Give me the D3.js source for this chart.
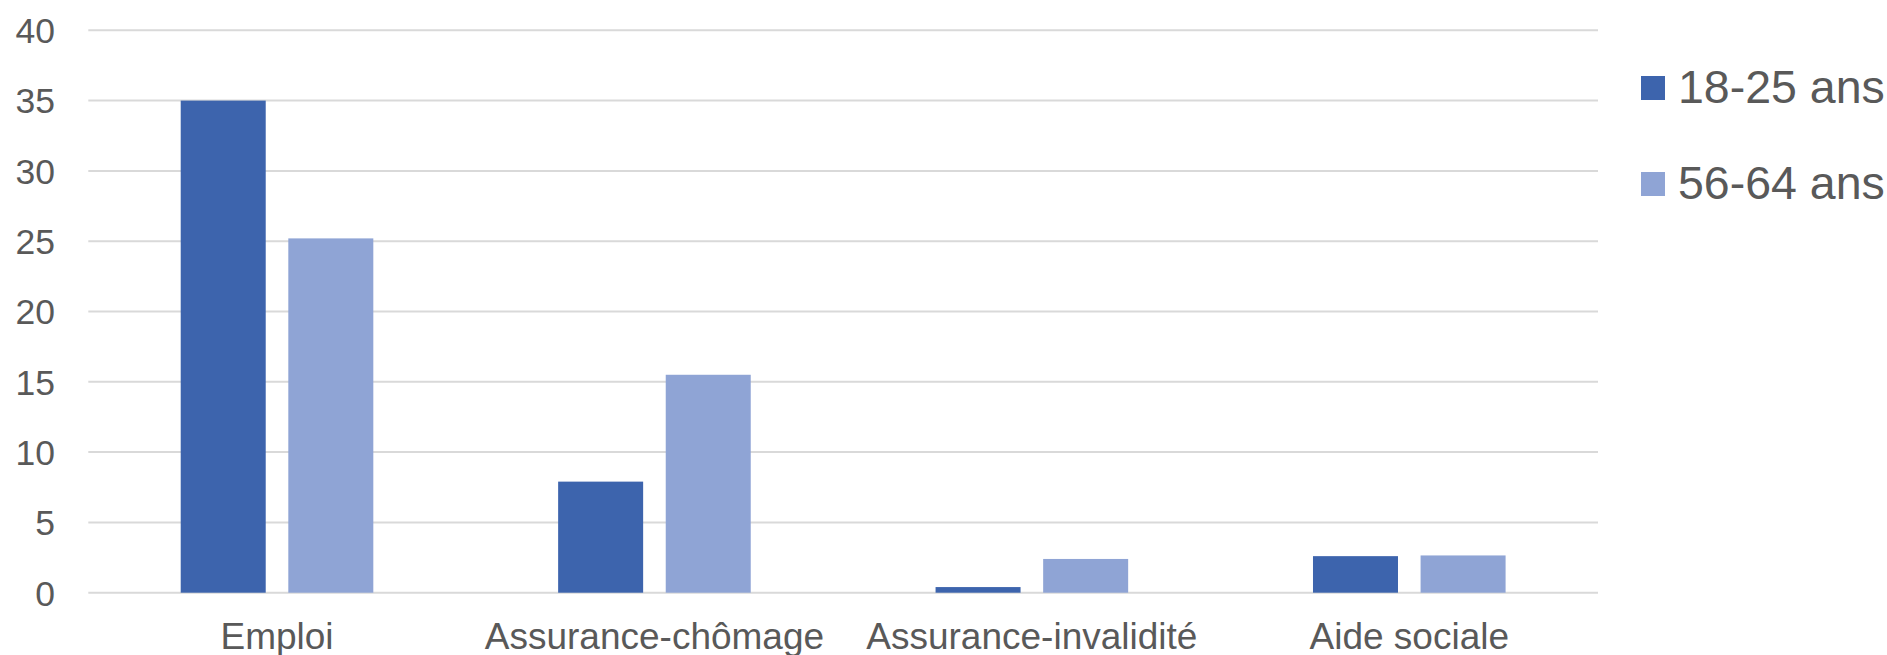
<!DOCTYPE html>
<html>
<head>
<meta charset="utf-8">
<script src="https://cdn.jsdelivr.net/npm/d3@7"></script>
<style>
  body { margin: 0; background: #fff; }
  svg text { font-family: "Liberation Sans", Arial, sans-serif; fill: #595959; }
</style>
</head>
<body>
<script>
const categories = ['Emploi', 'Assurance-chômage', 'Assurance-invalidité', 'Aide sociale'];
const series = ['18-25 ans', '56-64 ans'];
const values1825 = [35.0, 7.9, 0.4, 2.6];
const values5664 = [25.2, 15.5, 2.4, 2.65];
const yTicks = [0, 5, 10, 15, 20, 25, 30, 35, 40];
const colors = ['#3D64AD', '#8FA4D5'];

const width = 1887, height = 655;
const plot = { left: 88.3, right: 1598, top: 30.3, bottom: 592.7 };

const svg = d3.select('body')
  .append('svg')
  .attr('width', width)
  .attr('height', height);

const x0 = d3.scaleBand()
  .domain(categories)
  .range([plot.left, plot.right])
  .padding(0);

const groupW = 192.6;
const x1 = d3.scaleBand()
  .domain(series)
  .range([x0.bandwidth() / 2 - groupW / 2, x0.bandwidth() / 2 + groupW / 2])
  .paddingInner(0.21)
  .paddingOuter(0);

const y = d3.scaleLinear()
  .domain([0, 40])
  .range([plot.bottom, plot.top]);

// gridlines
svg.append('g')
  .selectAll('line')
  .data(yTicks)
  .join('line')
  .attr('x1', plot.left)
  .attr('x2', plot.right)
  .attr('y1', d => y(d))
  .attr('y2', d => y(d))
  .attr('stroke', '#d9d9d9')
  .attr('stroke-width', 2);

// y tick labels
svg.append('g')
  .selectAll('text')
  .data(yTicks)
  .join('text')
  .attr('x', 55)
  .attr('y', d => y(d) + 12.8)
  .attr('text-anchor', 'end')
  .style('font-size', '35.5px')
  .text(d => d);

// bars
const rows = categories.map((c, i) => ({ cat: c, vals: [values1825[i], values5664[i]] }));
const groups = svg.append('g')
  .selectAll('g')
  .data(rows)
  .join('g')
  .attr('transform', d => `translate(${x0(d.cat)},0)`);

groups.selectAll('rect')
  .data(d => d.vals.map((v, j) => ({ s: series[j], v: v, j: j })))
  .join('rect')
  .attr('x', d => x1(d.s))
  .attr('width', x1.bandwidth())
  .attr('y', d => y(d.v))
  .attr('height', d => y(0) - y(d.v))
  .attr('fill', d => colors[d.j]);

// category labels (bottom edge crops descenders, as in the original)
svg.append('g')
  .selectAll('text')
  .data(categories)
  .join('text')
  .attr('x', d => x0(d) + x0.bandwidth() / 2)
  .attr('y', 649)
  .attr('text-anchor', 'middle')
  .style('font-size', '37px')
  .text(d => d);

// legend
const legend = svg.append('g')
  .selectAll('g')
  .data(series)
  .join('g')
  .attr('transform', (d, i) => `translate(1641,${76 + i * 96})`);

legend.append('rect')
  .attr('width', 24)
  .attr('height', 24)
  .attr('fill', (d, i) => colors[i]);

legend.append('text')
  .attr('x', 37)
  .attr('y', 27.3)
  .style('font-size', '46.5px')
  .text(d => d);
</script>
</body>
</html>
